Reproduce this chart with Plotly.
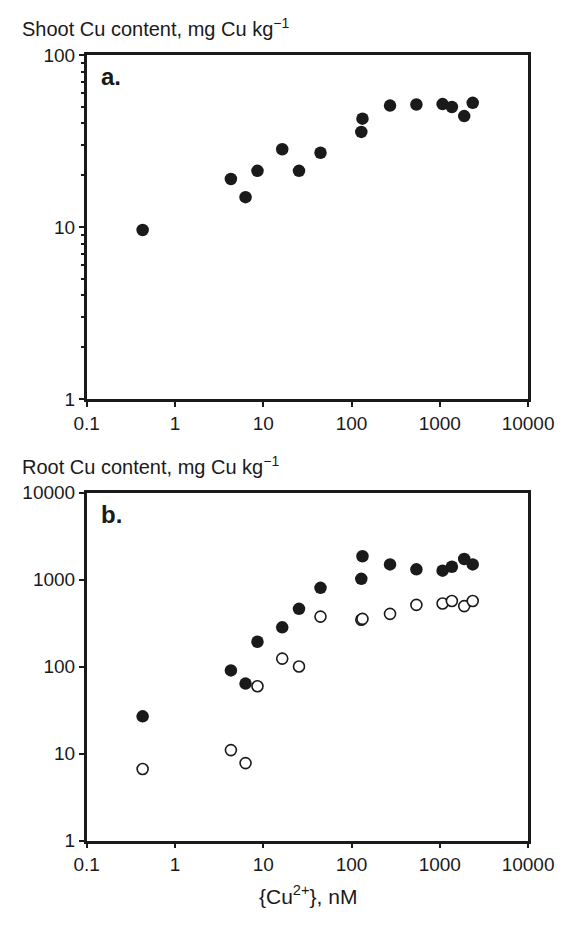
import plotly.graph_objects as go

# ---- data ----
cu_conc_nM = [0.43, 4.3, 6.3, 8.6, 16.4, 25.4, 44.5, 129, 133, 273, 543, 1075, 1370, 1890, 2360]
shoot_cu = [9.6, 19.0, 14.9, 21.2, 28.3, 21.2, 27.0, 35.7, 42.6, 50.8, 51.5, 51.8, 49.8, 44.1, 52.7]
root_cu_filled = [26.9, 90.8, 64, 194, 284, 463, 807, 1026, 1862, 1500, 1319, 1273, 1410, 1734, 1500]
root_cu_open = [6.67, 11, 7.8, 59.6, 124, 100.7, 377, 347, 355, 405, 514, 534, 570, 498, 570]

x_tickvals = [0.1, 1, 10, 100, 1000, 10000]
x_ticktext = ["0.1", "1", "10", "100", "1000", "10000"]
ya_tickvals = [1, 10, 100]
ya_ticktext = ["1", "10", "100"]
yb_tickvals = [1, 10, 100, 1000, 10000]
yb_ticktext = ["1", "10", "100", "1000", "10000"]

W, H = 583, 925
INK = "#1a1a1a"
FONT = "Liberation Sans, Arial, sans-serif"

def px_x(p):
    return p / W

def px_y(p):
    return 1 - p / H

fig = go.Figure()

fig.add_trace(go.Scatter(
    x=cu_conc_nM, y=shoot_cu, mode="markers", xaxis="x", yaxis="y",
    marker=dict(size=12.5, color=INK, line=dict(width=0)), showlegend=False,
    hoverinfo="skip"))
fig.add_trace(go.Scatter(
    x=cu_conc_nM, y=root_cu_open, mode="markers", xaxis="x2", yaxis="y2",
    marker=dict(size=11, color="white", line=dict(width=1.6, color=INK)), showlegend=False,
    hoverinfo="skip"))
fig.add_trace(go.Scatter(
    x=cu_conc_nM, y=root_cu_filled, mode="markers", xaxis="x2", yaxis="y2",
    marker=dict(size=12.5, color=INK, line=dict(width=0)), showlegend=False,
    hoverinfo="skip"))

xdom = [px_x(79), px_x(552)]
common_axis = dict(
    type="log", showline=True, linecolor=INK, linewidth=2.5, mirror=True,
    showgrid=False, zeroline=False, ticks="outside", ticklen=5, tickwidth=2,
    tickcolor=INK, tickfont=dict(family=FONT, size=19, color=INK),
)

fig.update_layout(
    width=W, height=H,
    margin=dict(l=0, r=0, t=0, b=0),
    paper_bgcolor="white", plot_bgcolor="white",
    xaxis=dict(common_axis, domain=xdom, anchor="y", range=[-1, 4],
               tickvals=x_tickvals, ticktext=x_ticktext),
    yaxis=dict(common_axis, domain=[px_y(398), px_y(46)], anchor="x", range=[0, 2],
               tickvals=ya_tickvals, ticktext=ya_ticktext,
               minor=dict(ticks="outside", ticklen=3, tickwidth=2, tickcolor=INK,
                          dtick="D1", showgrid=False)),
    xaxis2=dict(common_axis, domain=xdom, anchor="y2", range=[-1, 4],
                tickvals=x_tickvals, ticktext=x_ticktext),
    yaxis2=dict(common_axis, domain=[px_y(850), px_y(494)], anchor="x2", range=[0, 4],
                tickvals=yb_tickvals, ticktext=yb_ticktext),
)

annots = [
    dict(text="Shoot Cu content, mg Cu kg<sup>\u22121</sup>", x=px_x(8), y=px_y(18),
         xanchor="left", yanchor="middle", font=dict(size=20, family=FONT, color=INK)),
    dict(text="Root Cu content, mg Cu kg<sup>\u22121</sup>", x=px_x(8), y=px_y(466),
         xanchor="left", yanchor="middle", font=dict(size=20, family=FONT, color=INK)),
    dict(text="<b>a.</b>", x=px_x(92), y=px_y(68),
         xanchor="left", yanchor="middle", font=dict(size=24, family=FONT, color=INK)),
    dict(text="<b>b.</b>", x=px_x(92), y=px_y(516),
         xanchor="left", yanchor="middle", font=dict(size=24, family=FONT, color=INK)),
    dict(text="{Cu<sup>2+</sup>}, nM", x=px_x(316), y=px_y(906),
         xanchor="center", yanchor="middle", font=dict(size=21, family=FONT, color=INK)),
]
for a in annots:
    fig.add_annotation(xref="paper", yref="paper", showarrow=False, **a)

fig.write_html(
    "out.html",
    config={"displayModeBar": False},
    post_script="document.body.style.margin='0';document.body.style.overflow='hidden';",
)
